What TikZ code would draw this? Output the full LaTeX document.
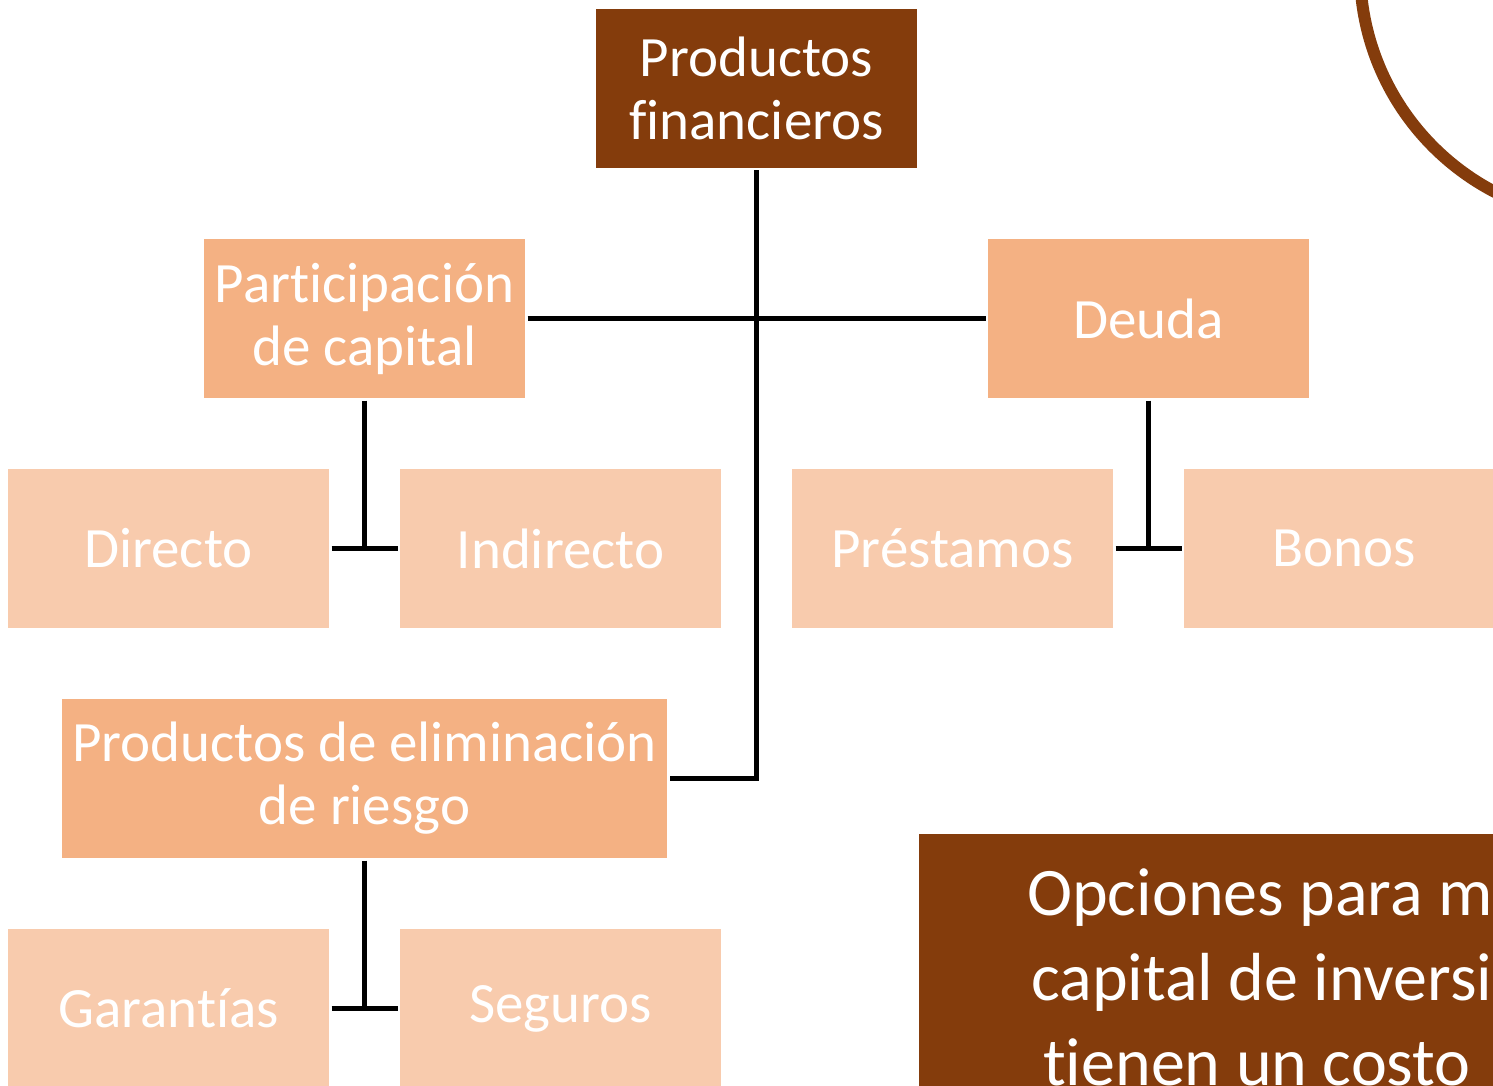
\documentclass[tikz,border=0pt]{standalone}
\usepackage{fontspec}
\setmainfont{Carlito}[Ligatures=NoCommon]
\usetikzlibrary{positioning}
\definecolor{cafe}{HTML}{843C0C}
\definecolor{durazno}{HTML}{F4B183}
\definecolor{claro}{HTML}{F8CBAD}
\tikzset{
  caja/.style={minimum width=321pt, minimum height=159pt, inner sep=0pt, outer sep=2.5pt,
    text=white, align=center, font=\fontsize{57}{63}\selectfont},
  raiz/.style={caja, fill=cafe},
  rama/.style={caja, fill=durazno},
  hoja/.style={caja, fill=claro},
  enlace/.style={line width=5.5pt, black},
  nota/.style={text=white, anchor=base west, inner sep=0pt, font=\fontsize{68}{85}\selectfont}
}

\begin{document}
\begin{tikzpicture}[x=1pt, y=-1pt]

\useasboundingbox (0,0) rectangle (1493,1086);
\clip (0,0) rectangle (1493,1086);
\fill[white] (0,0) rectangle (1493,1086);

% arco de la esquina
\draw[cafe, line width=12pt] (1610,-30) circle (250);

% niveles
\node[raiz] (top) at (756.5,88.5) {Productos\\financieros};
\node[rama] (part) at (364.5,318.5) {Participación\\de capital};
\node[rama] (deuda) at (1148.5,318.5) {Deuda};
\node[hoja] (directo) at (168.5,548.5) {Directo};
\node[hoja] (indirecto) at (560.5,548.5) {Indirecto};
\node[hoja] (prestamos) at (952.5,548.5) {Préstamos};
\node[hoja] (bonos) at (1344.5,548.5) {Bonos};
\node[rama, minimum width=605pt] (elim) at (364.5,778.5) {Productos de eliminación\\de riesgo};
\node[hoja] (garantias) at (168.5,1008.5) {Garantías};
\node[hoja] (seguros) at (560.5,1008.5) {Seguros};

% recuadro inferior
\node[fill=cafe, minimum width=700pt, minimum height=400pt, inner sep=0pt, anchor=north west] (cuadro) at (919,834) {};
\node[nota] (l1) at (1027,915) {Opciones para m};
\node[nota] (l2) at (1031,1000) {capital de inversi};
\node[nota] (l3) at (1043,1085) {tienen un costo};

% conectores
\coordinate (codo) at (top.south |- elim.east);
\draw[enlace] (top.south) -- (codo) -- (elim.east);
\draw[enlace] (part.east) -- (deuda.west);
\foreach \p/\a/\b in {part/directo/indirecto, deuda/prestamos/bonos, elim/garantias/seguros}
{
  \draw[enlace] (\p.south) -- (\p.south |- \a.east);
  \draw[enlace] (\a.east) -- (\b.west);
}

\end{tikzpicture}
\end{document}
